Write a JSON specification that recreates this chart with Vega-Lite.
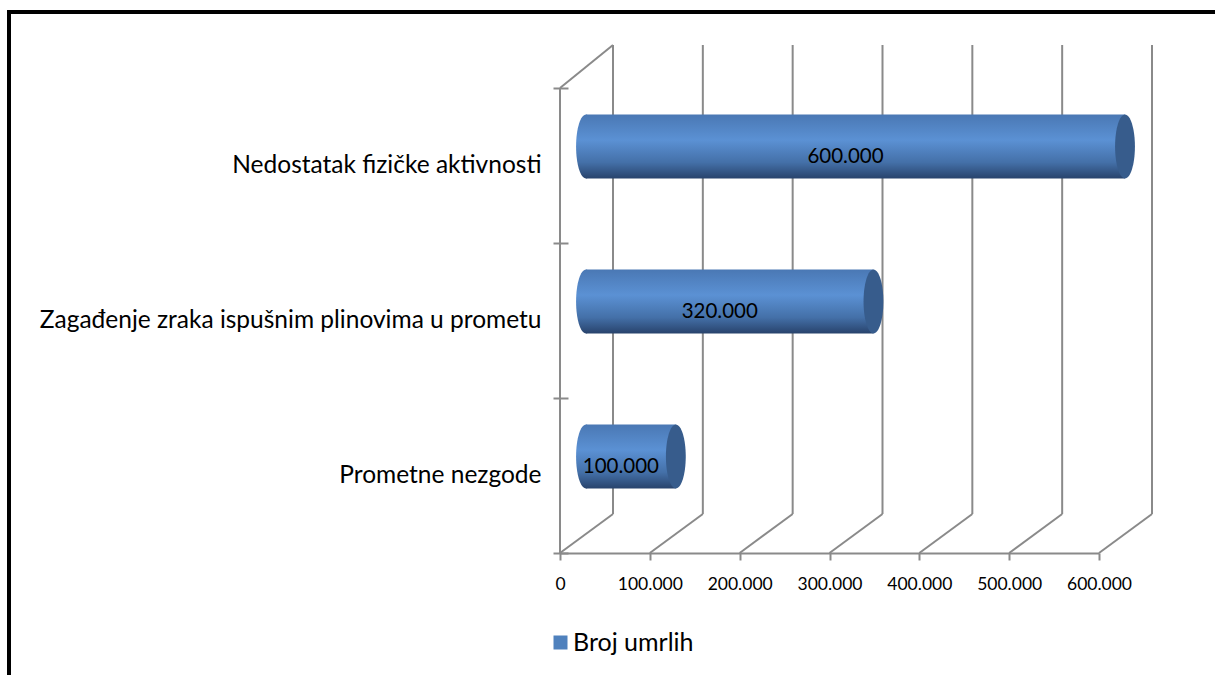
{
  "$schema": "https://vega.github.io/schema/vega-lite/v6.json",
  "width": 1217,
  "height": 675,
  "autosize": {"type": "none"},
  "padding": {"left": 9, "top": 12, "right": -11, "bottom": -12},
  "background": "#ffffff",
  "config": {
    "font": "Lato",
    "view": {"stroke": "#000000", "strokeWidth": 4},
    "locale": {
      "number": {"decimal": ",", "thousands": ".", "grouping": [3], "currency": ["", " kn"]}
    }
  },
  "datasets": {
    "deaths": [
      {"uzrok": "Nedostatak fizičke aktivnosti", "broj": 600000},
      {"uzrok": "Zagađenje zraka ispušnim plinovima u prometu", "broj": 320000},
      {"uzrok": "Prometne nezgode", "broj": 100000}
    ],
    "ticks": [
      {"v": 0}, {"v": 100000}, {"v": 200000}, {"v": 300000},
      {"v": 400000}, {"v": 500000}, {"v": 600000}
    ],
    "one": [{}]
  },
  "resolve": {"scale": {"x": "independent", "y": "independent"}},
  "layer": [
    {
      "description": "back wall: vertical gridlines",
      "data": {"name": "ticks"},
      "mark": {"type": "rule", "color": "#8a8a8a", "strokeWidth": 2, "xOffset": 53, "yOffset": -43, "y2Offset": -39},
      "encoding": {
        "x": {"field": "v", "type": "quantitative", "scale": {"domain": [0, 600000], "range": [551, 1090], "nice": false}, "axis": null},
        "y": {"datum": 1, "type": "quantitative", "scale": {"domain": [0, 1], "range": [541, 76], "nice": false}, "axis": null},
        "y2": {"datum": 0}
      }
    },
    {
      "description": "floor: diagonals from front ticks to the back wall",
      "data": {"name": "ticks"},
      "mark": {"type": "rule", "color": "#8a8a8a", "strokeWidth": 2, "x2Offset": 53, "y2Offset": -39},
      "encoding": {
        "x": {"field": "v", "type": "quantitative", "scale": {"domain": [0, 600000], "range": [551, 1090], "nice": false}, "axis": null},
        "x2": {"field": "v"},
        "y": {"datum": 0, "type": "quantitative", "scale": {"domain": [0, 1], "range": [541, 76], "nice": false}, "axis": null},
        "y2": {"datum": 0}
      }
    },
    {
      "description": "side wall: front edge",
      "data": {"name": "one"},
      "mark": {"type": "rule", "color": "#8a8a8a", "strokeWidth": 2},
      "encoding": {
        "x": {"datum": 0, "type": "quantitative", "scale": {"domain": [0, 600000], "range": [551, 1090], "nice": false}, "axis": null},
        "y": {"datum": 0, "type": "quantitative", "scale": {"domain": [0, 1], "range": [541, 76], "nice": false}, "axis": null},
        "y2": {"datum": 1}
      }
    },
    {
      "description": "side wall: top edge",
      "data": {"name": "one"},
      "mark": {"type": "rule", "color": "#8a8a8a", "strokeWidth": 2, "x2Offset": 53, "y2Offset": -43},
      "encoding": {
        "x": {"datum": 0, "type": "quantitative", "scale": {"domain": [0, 600000], "range": [551, 1090], "nice": false}, "axis": null},
        "x2": {"datum": 0},
        "y": {"datum": 1, "type": "quantitative", "scale": {"domain": [0, 1], "range": [541, 76], "nice": false}, "axis": null},
        "y2": {"datum": 1}
      }
    },
    {
      "description": "cylinder: rounded start",
      "data": {"name": "deaths"},
      "mark": {
        "type": "point", "filled": true, "opacity": 1, "strokeWidth": 0,
        "shape": "M0,-1A0.31,1 0 0 1 0,1A0.31,1 0 0 1 0,-1Z", "size": 4096,
        "xOffset": 26, "yOffset": -19,
        "fill": {"gradient": "linear", "x1": 0, "y1": 0, "x2": 0, "y2": 1,
          "stops": [
            {"offset": 0, "color": "#4a78b4"},
            {"offset": 0.4, "color": "#5b91d4"},
            {"offset": 0.75, "color": "#4470a8"},
            {"offset": 1, "color": "#28436c"}
          ]}
      },
      "encoding": {
        "x": {"datum": 0, "type": "quantitative", "scale": {"domain": [0, 600000], "range": [551, 1090], "nice": false}, "axis": null},
        "y": {"field": "uzrok", "type": "nominal", "scale": {"domain": ["Nedostatak fizičke aktivnosti", "Zagađenje zraka ispušnim plinovima u prometu", "Prometne nezgode"], "range": [76, 541], "paddingInner": 0, "paddingOuter": 0}, "axis": null}
      }
    },
    {
      "description": "cylinder body with the axes",
      "data": {"name": "deaths"},
      "mark": {
        "type": "bar", "height": 64, "xOffset": 26, "x2Offset": 26, "yOffset": -19,
        "fill": {"gradient": "linear", "x1": 0, "y1": 0, "x2": 0, "y2": 1,
          "stops": [
            {"offset": 0, "color": "#4a78b4"},
            {"offset": 0.4, "color": "#5b91d4"},
            {"offset": 0.75, "color": "#4470a8"},
            {"offset": 1, "color": "#28436c"}
          ]}
      },
      "encoding": {
        "x": {
          "field": "broj", "type": "quantitative", "stack": null,
          "scale": {"domain": [0, 600000], "range": [551, 1090], "nice": false},
          "axis": {
            "orient": "bottom", "offset": -134, "title": null, "grid": false,
            "values": [0, 100000, 200000, 300000, 400000, 500000, 600000],
            "format": ",d",
            "domainColor": "#8a8a8a", "domainWidth": 2,
            "tickColor": "#8a8a8a", "tickWidth": 2, "tickSize": 7,
            "labelPadding": 15, "labelFontSize": 17.5, "labelColor": "#000000",
            "labelFlush": false, "labelOverlap": false
          }
        },
        "x2": {"datum": 0},
        "y": {
          "field": "uzrok", "type": "nominal",
          "scale": {"domain": ["Nedostatak fizičke aktivnosti", "Zagađenje zraka ispušnim plinovima u prometu", "Prometne nezgode"], "range": [76, 541], "paddingInner": 0, "paddingOuter": 0},
          "axis": {
            "orient": "left", "offset": -559, "title": null, "grid": false,
            "domain": false, "tickBand": "extent",
            "tickColor": "#8a8a8a", "tickWidth": 2, "tickSize": 15,
            "labelPadding": 12, "labelFontSize": 24.5, "labelColor": "#000000", "labelLimit": 700
          }
        }
      }
    },
    {
      "description": "cylinder: end cap",
      "data": {"name": "deaths"},
      "mark": {
        "type": "point", "filled": true, "opacity": 1, "strokeWidth": 0,
        "shape": "M0,-1A0.31,1 0 0 1 0,1A0.31,1 0 0 1 0,-1Z", "size": 4096,
        "xOffset": 26, "yOffset": -19, "fill": "#375c8c"
      },
      "encoding": {
        "x": {"field": "broj", "type": "quantitative", "scale": {"domain": [0, 600000], "range": [551, 1090], "nice": false}, "axis": null},
        "y": {"field": "uzrok", "type": "nominal", "scale": {"domain": ["Nedostatak fizičke aktivnosti", "Zagađenje zraka ispušnim plinovima u prometu", "Prometne nezgode"], "range": [76, 541], "paddingInner": 0, "paddingOuter": 0}, "axis": null}
      }
    },
    {
      "description": "value labels at the middle of each bar (scale spans twice the domain)",
      "data": {"name": "deaths"},
      "mark": {"type": "text", "fontSize": 20.5, "color": "#000000", "xOffset": 16, "yOffset": -9},
      "encoding": {
        "x": {"field": "broj", "type": "quantitative", "scale": {"domain": [0, 1200000], "range": [551, 1090], "nice": false}, "axis": null},
        "y": {"field": "uzrok", "type": "nominal", "scale": {"domain": ["Nedostatak fizičke aktivnosti", "Zagađenje zraka ispušnim plinovima u prometu", "Prometne nezgode"], "range": [76, 541], "paddingInner": 0, "paddingOuter": 0}, "axis": null},
        "text": {"field": "broj", "type": "quantitative", "format": ",d"}
      }
    },
    {
      "description": "series legend",
      "data": {"name": "one"},
      "mark": {"type": "point", "filled": true, "opacity": 0},
      "encoding": {
        "color": {
          "datum": "Broj umrlih", "type": "nominal",
          "scale": {"range": ["#4f81bd"]},
          "legend": {
            "orient": "none", "legendX": 539, "legendY": 618, "title": null, "padding": 0,
            "symbolType": "square", "symbolSize": 196, "symbolStrokeWidth": 0, "symbolOpacity": 1,
            "labelFontSize": 25, "labelColor": "#000000", "labelOffset": 0
          }
        }
      }
    }
  ]
}
